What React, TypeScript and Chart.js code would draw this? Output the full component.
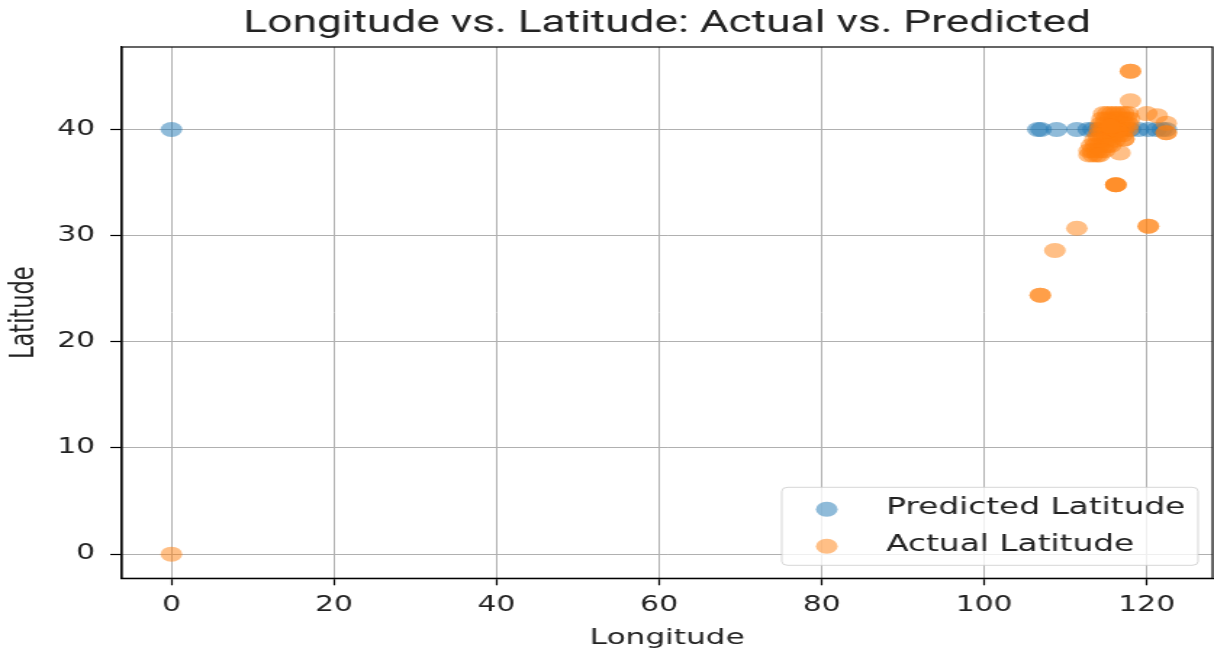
import React, { useEffect, useRef } from "react";
import { Chart, registerables } from "chart.js";

Chart.register(...registerables);

// ---- data ----
const predictedLon: number[] = [
  0, 106.6, 107.0, 108.9, 111.4, 112.8, 113.4, 114.0, 114.8, 115.6, 116.4,
  117.2, 118.0, 119.0, 120.2, 121.2, 121.9, 122.4,
];
const predictedLat: number[] = [
  40.0, 40.0, 40.0, 40.0, 40.0, 40.0, 40.0, 40.0, 40.0, 40.0, 40.0, 40.0,
  40.0, 40.0, 40.0, 40.0, 40.0, 40.0,
];

const actualLon: number[] = [
  0,
  118.0, 118.0, 118.0,
  116.2, 116.2, 116.2,
  111.4, 120.2, 120.2, 108.7, 106.9, 106.9,
  116.7, 120.0, 121.3, 122.4, 122.4, 122.4,
  114.7, 115.2, 115.7, 116.2, 116.7, 117.2, 117.7,
  114.5, 115.0, 115.5, 116.0, 116.5, 117.0, 117.5, 117.9,
  114.3, 114.8, 115.3, 115.8, 116.3, 116.8, 117.3, 117.8,
  114.2, 114.7, 115.2, 115.7, 116.2, 116.7, 117.2, 117.7,
  114.0, 114.5, 115.0, 115.5, 116.0, 116.5, 117.0,
  113.6, 114.1, 114.6, 115.1, 115.6, 116.1,
  113.2, 113.7, 114.2, 114.7, 115.2, 115.6,
  112.9, 113.3, 113.8, 114.3, 114.8,
  112.9, 113.4, 113.9, 114.2,
  116.4, 116.4, 116.4, 116.4, 117.2, 117.2, 115.5, 115.5,
];
const actualLat: number[] = [
  0,
  45.5, 45.5, 42.7,
  34.8, 34.8, 34.8,
  30.7, 30.9, 30.9, 28.6, 24.4, 24.4,
  37.8, 41.5, 41.3, 40.6, 39.7, 39.7,
  41.5, 41.5, 41.5, 41.5, 41.5, 41.5, 41.5,
  41.0, 41.0, 41.0, 41.0, 41.0, 41.0, 41.0, 41.0,
  40.5, 40.5, 40.5, 40.5, 40.5, 40.5, 40.5, 40.5,
  40.0, 40.0, 40.0, 40.0, 40.0, 40.0, 40.0, 40.0,
  39.5, 39.5, 39.5, 39.5, 39.5, 39.5, 39.5,
  39.0, 39.0, 39.0, 39.0, 39.0, 39.0,
  38.5, 38.5, 38.5, 38.5, 38.5, 38.5,
  38.0, 38.0, 38.0, 38.0, 38.0,
  37.6, 37.6, 37.6, 37.6,
  39.9, 39.9, 39.9, 39.9, 39.1, 39.1, 40.3, 40.3,
];

const seriesLabels: string[] = ["Predicted Latitude", "Actual Latitude"];
const xTickValues: number[] = [0, 20, 40, 60, 80, 100, 120];
const yTickValues: number[] = [0, 10, 20, 30, 40];

const BLUE = "rgba(31,119,180,0.5)";
const ORANGE = "rgba(255,127,14,0.5)";

const CSS_W = 1214;
const CSS_H = 657;
const INT_W = 837; // drawn narrower, then stretched horizontally like the reference

const toPoints = (xs: number[], ys: number[]) =>
  xs.map((x, i) => ({ x, y: ys[i] }));

const framePlugin = {
  id: "frameAndLegend",
  afterDraw(chart: any) {
    const { ctx, chartArea: a } = chart;
    ctx.save();
    ctx.strokeStyle = "#000";
    ctx.lineWidth = 1.2;
    ctx.strokeRect(a.left, a.top, a.right - a.left, a.bottom - a.top);

    // legend box (inside lower right of plot area)
    const w = 287;
    const h = 78;
    const x0 = a.right - 10 - w;
    const y0 = a.bottom - 13 - h;
    ctx.beginPath();
    if ((ctx as any).roundRect) (ctx as any).roundRect(x0, y0, w, h, 4);
    else ctx.rect(x0, y0, w, h);
    ctx.fillStyle = "rgba(255,255,255,0.8)";
    ctx.fill();
    ctx.strokeStyle = "rgba(204,204,204,0.8)";
    ctx.lineWidth = 1;
    ctx.stroke();

    const colors = [BLUE, ORANGE];
    const rowsY = [y0 + 22, y0 + 59];
    ctx.font = '22.6px "DejaVu Sans"';
    ctx.textBaseline = "middle";
    ctx.textAlign = "left";
    seriesLabels.forEach((lab, i) => {
      ctx.beginPath();
      ctx.fillStyle = colors[i];
      ctx.arc(x0 + 31, rowsY[i], 7.5, 0, Math.PI * 2);
      ctx.fill();
      ctx.fillStyle = "#222";
      ctx.fillText(lab, x0 + 72, rowsY[i] - 1.5);
    });
    ctx.restore();
  },
};

export default function App() {
  const ref = useRef<HTMLCanvasElement | null>(null);

  useEffect(() => {
    document.body.style.margin = "0";
    const canvas = ref.current;
    if (!canvas) return;
    Chart.defaults.font.family = '"DejaVu Sans", sans-serif';
    const chart = new Chart(canvas, {
      type: "scatter",
      data: {
        datasets: [
          {
            label: seriesLabels[0],
            data: toPoints(predictedLon, predictedLat),
            backgroundColor: BLUE,
            borderWidth: 0,
            pointRadius: 7.5,
            pointHoverRadius: 7.5,
            order: 1,
          },
          {
            label: seriesLabels[1],
            data: toPoints(actualLon, actualLat),
            backgroundColor: ORANGE,
            borderWidth: 0,
            pointRadius: 7.5,
            pointHoverRadius: 7.5,
            order: 0,
          },
        ],
      },
      options: {
        animation: false,
        responsive: false,
        events: [],
        layout: {
          autoPadding: false,
          padding: { left: 0, right: 1, top: 0, bottom: 0 },
        },
        plugins: {
          legend: { display: false },
          tooltip: { enabled: false },
          title: {
            display: true,
            text: "Longitude vs. Latitude: Actual vs. Predicted",
            fullSize: false,
            color: "#222",
            font: {
              family: 'Roboto, "DejaVu Sans", sans-serif',
              size: 30.5,
              weight: "normal",
            },
            padding: { top: 6, bottom: 4.4 },
          },
        },
        scales: {
          x: {
            type: "linear",
            min: -6.1,
            max: 128.1,
            afterBuildTicks: (s: any) => {
              s.ticks = xTickValues.map((v) => ({ value: v }));
            },
            ticks: {
              color: "#222",
              font: { size: 20.5 },
              padding: 8,
              maxRotation: 0,
            },
            grid: {
              color: "#b0b0b0",
              lineWidth: 1,
              drawTicks: true,
              tickLength: 7,
              tickColor: "#000",
              tickWidth: 1.2,
            },
            border: { display: true, color: "#000", width: 1.2 },
            title: {
              display: true,
              text: "Longitude",
              color: "#222",
              font: { size: 21.5 },
              padding: { top: 0, bottom: 6 },
            },
            afterFit: (s: any) => {
              s.height = 78.7;
              s.paddingLeft = 0;
              s.paddingRight = 0;
            },
          },
          y: {
            type: "linear",
            min: -2.275,
            max: 47.775,
            afterBuildTicks: (s: any) => {
              s.ticks = yTickValues.map((v) => ({ value: v }));
            },
            ticks: {
              color: "#222",
              font: { size: 20.5 },
              padding: 10.5,
            },
            grid: {
              color: "#b0b0b0",
              lineWidth: 1,
              drawTicks: true,
              tickLength: 8,
              tickColor: "#000",
              tickWidth: 1.2,
            },
            border: { display: true, color: "#000", width: 1.2 },
            title: {
              display: true,
              text: "Latitude",
              color: "#222",
              font: { size: 22.5 },
              padding: { top: 3.7, bottom: 0 },
            },
            afterFit: (s: any) => {
              s.width = 84;
              s.paddingTop = 0;
              s.paddingBottom = 0;
            },
          },
        },
      },
      plugins: [framePlugin],
    } as any);
    return () => chart.destroy();
  }, []);

  return (
    <div style={{ width: CSS_W, height: CSS_H, overflow: "hidden" }}>
      <canvas
        ref={ref}
        width={INT_W}
        height={CSS_H}
        style={{ width: CSS_W + "px", height: CSS_H + "px", display: "block" }}
      />
    </div>
  );
}
